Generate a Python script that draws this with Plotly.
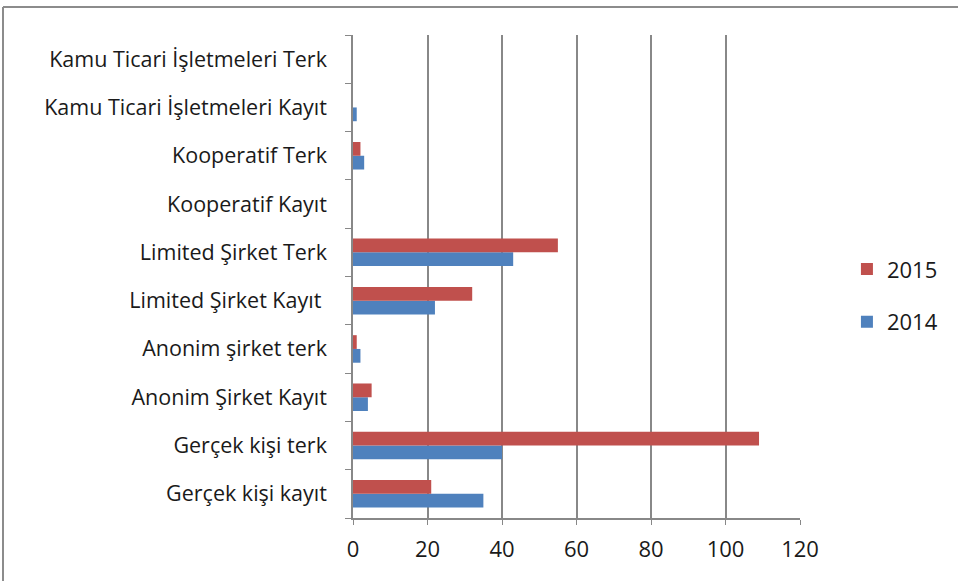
import plotly.graph_objects as go

categories = [
    "Gerçek kişi kayıt",
    "Gerçek kişi terk",
    "Anonim Şirket Kayıt",
    "Anonim şirket terk",
    "Limited Şirket Kayıt ",
    "Limited Şirket Terk",
    "Kooperatif Kayıt",
    "Kooperatif Terk",
    "Kamu Ticari İşletmeleri Kayıt",
    "Kamu Ticari İşletmeleri Terk",
]
values_2014 = [35, 40, 4, 2, 22, 43, 0, 3, 1, 0]
values_2015 = [21, 109, 5, 1, 32, 55, 0, 2, 0, 0]
x_ticks = [0, 20, 40, 60, 80, 100, 120]

BLUE = "#4F81BD"
RED = "#C0504D"
GRID = "#888888"
FONT = "Open Sans"

fig = go.Figure()
fig.add_trace(go.Bar(y=categories, x=values_2014, orientation="h", name="2014",
                     legendgroup="a", legendrank=2,
                     marker=dict(color=BLUE, line=dict(width=0))))
fig.add_trace(go.Bar(y=categories, x=values_2015, orientation="h", name="2015",
                     legendgroup="b", legendrank=1,
                     marker=dict(color=RED, line=dict(width=0))))

# frame around the chart area (only left and top edges are visible)
fig.add_shape(type="line", xref="paper", yref="paper",
              x0=-0.783, x1=-0.783, y0=1.058, y1=-0.2,
              line=dict(color="#8c8c8c", width=2))
fig.add_shape(type="line", xref="paper", yref="paper",
              x0=-0.783, x1=1.5, y0=1.058, y1=1.058,
              line=dict(color="#8c8c8c", width=2))

fig.update_layout(
    width=958,
    height=581,
    barmode="group",
    bargap=0.43,
    bargroupgap=0,
    plot_bgcolor="white",
    paper_bgcolor="white",
    font=dict(family=FONT, size=21.5, color="#1a1a1a"),
    margin=dict(l=353, r=158, t=35, b=63),
    legend=dict(traceorder="grouped", x=1.105, y=0.46, yanchor="middle",
                font=dict(size=22), tracegroupgap=21),
    showlegend=True,
)
fig.update_xaxes(
    range=[0, 120],
    tickvals=x_ticks,
    showgrid=True,
    gridcolor=GRID,
    gridwidth=1.5,
    showline=True,
    linecolor=GRID,
    linewidth=1.5,
    ticks="outside",
    ticklen=5,
    tickcolor=GRID,
    zeroline=False,
    tickfont=dict(size=22),
    ticklabelstandoff=6,
)
fig.update_yaxes(
    type="category",
    categoryorder="array",
    categoryarray=categories,
    tickson="boundaries",
    showgrid=False,
    showline=True,
    linecolor=GRID,
    linewidth=1.5,
    ticks="outside",
    ticklen=6,
    tickcolor=GRID,
    ticklabelstandoff=20,
)

fig.write_html("out.html", config={"displayModeBar": False},
               post_script="document.body.style.margin='0';")
